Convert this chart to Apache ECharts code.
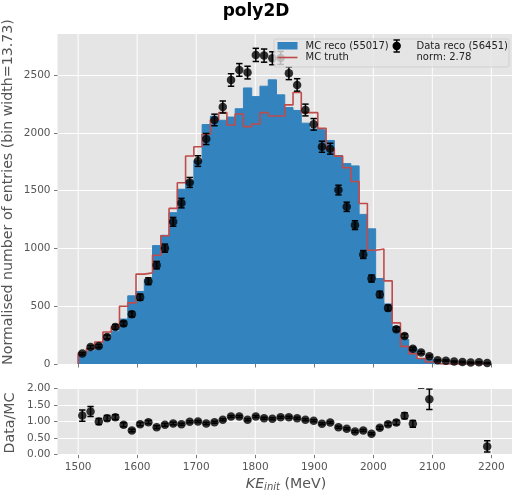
<!DOCTYPE html>
<html><head><meta charset="utf-8">
<script src="https://cdn.jsdelivr.net/npm/echarts@6/dist/echarts.min.js"></script>
<style>html,body{margin:0;padding:0;background:#fff}#c{width:512px;height:493px}</style>
</head><body><div id="c"></div>
<script>
// ---- data ----
const binStart = 1500;
const binWidth = 14;
const nBins = 50;
const xTicks = [1500, 1600, 1700, 1800, 1900, 2000, 2100, 2200];
const mainYTicks = [0, 500, 1000, 1500, 2000, 2500];
const ratioYTicks = [0, 0.5, 1, 1.5, 2];

const mcReco = [76,113,156,213,284,389,590,628,732,1025,
  1114,1310,1513,1588,1760,2073,2145,2110,2138,2210,
  2390,2315,2405,2460,2330,2220,2195,2085,2035,2025,
  1935,1805,1735,1715,1295,1170,740,520,320,212,
  138,45,40,0,0,0,0,0,0,0];
const mcTruth = [95,133,191,277,321,500,529,778,789,942,
  1110,1347,1569,1801,1881,1990,2113,2176,2069,2165,
  2055,2078,2176,2147,2147,2243,2350,2176,2176,2040,
  1859,1800,1700,1580,1390,985,995,720,356,153,
  90,47,17,0,0,0,0,0,0,0];
const dataReco = [90,147,156,234,321,350,431,578,717,856,
  1003,1231,1393,1572,1757,1948,2113,2225,2459,2546,
  2523,2676,2670,2647,2650,2517,2416,2199,2075,1881,
  1864,1506,1361,1202,948,740,602,485,301,243,
  133,99,67,32,29,21,18,12,15,9];
const dataErr = [10,13,14,17,20,20,23,26,29,32,
  35,38,41,43,46,48,50,52,54,55,
  55,57,57,56,56,55,54,51,50,48,
  47,42,40,38,34,30,27,24,19,17,
  13,11,9,6,6,5,5,4,4,3];
const ratio = [1.18,1.30,1.00,1.10,1.13,0.90,0.73,0.92,0.98,0.83,
  0.90,0.94,0.92,0.99,1.00,0.94,0.98,1.05,1.15,1.15,
  1.05,1.15,1.10,1.08,1.13,1.13,1.10,1.05,1.02,0.93,
  0.97,0.83,0.78,0.70,0.73,0.63,0.81,0.92,0.97,1.17,
  0.93,2.35,1.67,null,null,null,null,null,null,0.25];
const ratioErr = [0.17,0.15,0.09,0.08,0.07,0.06,0.04,0.05,0.05,0.04,
  0.04,0.04,0.03,0.03,0.03,0.03,0.03,0.03,0.03,0.03,
  0.03,0.03,0.03,0.03,0.03,0.03,0.03,0.03,0.03,0.03,
  0.03,0.03,0.03,0.03,0.03,0.03,0.04,0.05,0.07,0.09,
  0.10,0.35,0.31,0,0,0,0,0,0,0.17];

// ---- build ----
const FONT = 'DejaVu Sans';
const edges = [];
for (let i = 0; i <= nBins; i++) edges.push(binStart + i * binWidth);
const centers = edges.slice(0, nBins).map(e => e + binWidth / 2);

function outline(vals) {
  const pts = [[edges[0], 0]];
  vals.forEach((v, i) => { pts.push([edges[i], v]); pts.push([edges[i + 1], v]); });
  pts.push([edges[nBins], 0]);
  return pts;
}
function errRender(capHalf, lw) {
  return function (params, api) {
    const x = api.value(0), y = api.value(1), e = api.value(2);
    const t = api.coord([x, y + e]), b = api.coord([x, y - e]);
    const st = { stroke: '#000', lineWidth: lw };
    return { type: 'group', children: [
      { type: 'line', shape: { x1: t[0], y1: t[1], x2: b[0], y2: b[1] }, style: st },
      { type: 'line', shape: { x1: t[0] - capHalf, y1: t[1], x2: t[0] + capHalf, y2: t[1] }, style: st },
      { type: 'line', shape: { x1: b[0] - capHalf, y1: b[1], x2: b[0] + capHalf, y2: b[1] }, style: st }
    ]};
  };
}
function vGrid(yIdx, ymin, ymax) {
  return {
    type: 'custom', xAxisIndex: yIdx, yAxisIndex: yIdx, z: 1, silent: true,
    data: xTicks.map(x => [x]),
    encode: { x: 0 },
    renderItem: function (params, api) {
      const x = api.value(0);
      const a = api.coord([x, ymin]), b = api.coord([x, ymax]);
      return { type: 'line', shape: { x1: a[0], y1: a[1], x2: b[0], y2: b[1] }, style: { stroke: '#fff', lineWidth: 1 } };
    }
  };
}

const dataPts = centers.map((c, i) => [c, dataReco[i], dataErr[i]]);
const ratioPts = [];
centers.forEach((c, i) => { if (ratio[i] !== null) ratioPts.push([c, ratio[i], ratioErr[i]]); });

const xMin = 1465, xMax = 2235;
const mainYMax = 2857;
const tickStyle = { color: '#555555', fontFamily: FONT, fontSize: 10.5 };

const xAxisBase = {
  type: 'value', min: xMin, max: xMax,
  axisLine: { show: false },
  splitLine: { show: false },
  axisTick: { show: true, inside: false, length: 3.5, lineStyle: { color: '#555555', width: 0.8 }, customValues: xTicks },
};

const option = {
  animation: false,
  backgroundColor: '#ffffff',
  grid: [
    { left: 57.5, top: 34, width: 456, height: 330, show: true, backgroundColor: '#E5E5E5', borderWidth: 0 },
    { left: 57.5, top: 388.3, width: 456, height: 66.4, show: true, backgroundColor: '#E5E5E5', borderWidth: 0 }
  ],
  xAxis: [
    Object.assign({}, xAxisBase, { gridIndex: 0, axisLabel: { show: false } }),
    Object.assign({}, xAxisBase, { gridIndex: 1, axisLabel: Object.assign({ show: true, margin: 7, customValues: xTicks,
      formatter: v => (xTicks.indexOf(v) >= 0 ? String(v) : '') }, tickStyle) })
  ],
  yAxis: [
    { type: 'value', gridIndex: 0, min: 0, max: mainYMax, interval: 500,
      axisLine: { show: false },
      axisTick: { show: true, length: 3.5, lineStyle: { color: '#555555', width: 0.8 }, customValues: mainYTicks },
      axisLabel: Object.assign({ margin: 7, customValues: mainYTicks, formatter: v => (mainYTicks.indexOf(v) >= 0 ? String(v) : '') }, tickStyle),
      splitLine: { show: true, lineStyle: { color: '#ffffff', width: 1 } } },
    { type: 'value', gridIndex: 1, min: 0, max: 2, interval: 0.5,
      axisLine: { show: false },
      axisTick: { show: true, length: 3.5, lineStyle: { color: '#555555', width: 0.8 } },
      axisLabel: Object.assign({ margin: 7, formatter: v => v.toFixed(2) }, tickStyle),
      splitLine: { show: true, lineStyle: { color: '#ffffff', width: 1 } } }
  ],
  series: [
    vGrid(0, 0, mainYMax),
    vGrid(1, 0, 2),
    { type: 'line', name: 'MC reco', xAxisIndex: 0, yAxisIndex: 0, z: 2, data: outline(mcReco),
      symbol: 'none', smooth: false, silent: true,
      lineStyle: { color: '#3383BE', width: 1 }, areaStyle: { color: '#3383BE', opacity: 1 } },
    { type: 'line', name: 'MC truth', xAxisIndex: 0, yAxisIndex: 0, z: 3, data: outline(mcTruth),
      symbol: 'none', smooth: false, silent: true,
      lineStyle: { color: '#C04B4B', width: 1.6 } },
    { type: 'custom', name: 'Data err', xAxisIndex: 0, yAxisIndex: 0, z: 4, clip: true,
      data: dataPts, encode: { x: 0, y: 1 }, renderItem: errRender(3.2, 1.5) },
    { type: 'scatter', name: 'Data reco', xAxisIndex: 0, yAxisIndex: 0, z: 5, clip: true,
      data: dataPts.map(p => [p[0], p[1]]), symbol: 'circle', symbolSize: 8.5,
      itemStyle: { color: '#000000' } },
    { type: 'custom', name: 'Ratio err', xAxisIndex: 1, yAxisIndex: 1, z: 4, clip: true,
      data: ratioPts, encode: { x: 0, y: 1 }, renderItem: errRender(3.2, 1.5) },
    { type: 'scatter', name: 'Ratio', xAxisIndex: 1, yAxisIndex: 1, z: 5, clip: true,
      data: ratioPts.map(p => [p[0], p[1]]), symbol: 'circle', symbolSize: 8.5,
      itemStyle: { color: '#000000' } }
  ],
  graphic: [
    { type: 'text', left: 'center', top: 3, z: 100,
      style: { text: 'poly2D', font: 'bold 17px "DejaVu Sans"', fill: '#000' } },
    { type: 'text', x: 8.5, y: 192, rotation: Math.PI / 2, z: 100,
      style: { text: 'Normalised number of entries (bin width=13.73)', font: '14.2px "DejaVu Sans"', fill: '#555555', align: 'center', verticalAlign: 'middle' } },
    { type: 'text', x: 10.5, y: 423, rotation: Math.PI / 2, z: 100,
      style: { text: 'Data/MC', font: '14.2px "DejaVu Sans"', fill: '#555555', align: 'center', verticalAlign: 'middle' } },
    { type: 'text', x: 286, y: 484, z: 100,
      style: { text: '{i|KE}{s|init}{n| (MeV)}', align: 'center', verticalAlign: 'middle',
        rich: {
          i: { font: 'italic 14.2px "DejaVu Sans"', fill: '#555555' },
          s: { font: 'italic 10px "DejaVu Sans"', fill: '#555555', padding: [7, 0, 0, 0] },
          n: { font: '14.2px "DejaVu Sans"', fill: '#555555' }
        } } },
    // legend box
    { type: 'rect', z: 100, shape: { x: 274, y: 39, width: 235, height: 28, r: 2 },
      style: { fill: 'rgba(229,229,229,0.8)', stroke: 'rgba(204,204,204,0.8)', lineWidth: 1 } },
    { type: 'rect', z: 101, shape: { x: 277.5, y: 42, width: 20, height: 7.5 }, style: { fill: '#3383BE' } },
    { type: 'text', z: 101, x: 305.5, y: 46, style: { text: 'MC reco (55017)', font: '10px "DejaVu Sans"', fill: '#222', verticalAlign: 'middle' } },
    { type: 'line', z: 101, shape: { x1: 277.5, y1: 57.5, x2: 297.5, y2: 57.5 }, style: { stroke: '#C04B4B', lineWidth: 1.6 } },
    { type: 'text', z: 101, x: 305.5, y: 57.5, style: { text: 'MC truth', font: '10px "DejaVu Sans"', fill: '#222', verticalAlign: 'middle' } },
    { type: 'line', z: 101, shape: { x1: 396.7, y1: 40, x2: 396.7, y2: 52 }, style: { stroke: '#000', lineWidth: 1.5 } },
    { type: 'line', z: 101, shape: { x1: 393.5, y1: 40, x2: 399.9, y2: 40 }, style: { stroke: '#000', lineWidth: 1.5 } },
    { type: 'line', z: 101, shape: { x1: 393.5, y1: 52, x2: 399.9, y2: 52 }, style: { stroke: '#000', lineWidth: 1.5 } },
    { type: 'circle', z: 101, shape: { cx: 396.7, cy: 46, r: 4.2 }, style: { fill: '#000' } },
    { type: 'text', z: 101, x: 416.5, y: 46, style: { text: 'Data reco (56451)', font: '10px "DejaVu Sans"', fill: '#222', verticalAlign: 'middle' } },
    { type: 'text', z: 101, x: 416.5, y: 57.5, style: { text: 'norm: 2.78', font: '10px "DejaVu Sans"', fill: '#222', verticalAlign: 'middle' } }
  ]
};

const chart = echarts.init(document.getElementById('c'), null, { renderer: 'canvas' });
chart.setOption(option);
</script>
</body></html>
